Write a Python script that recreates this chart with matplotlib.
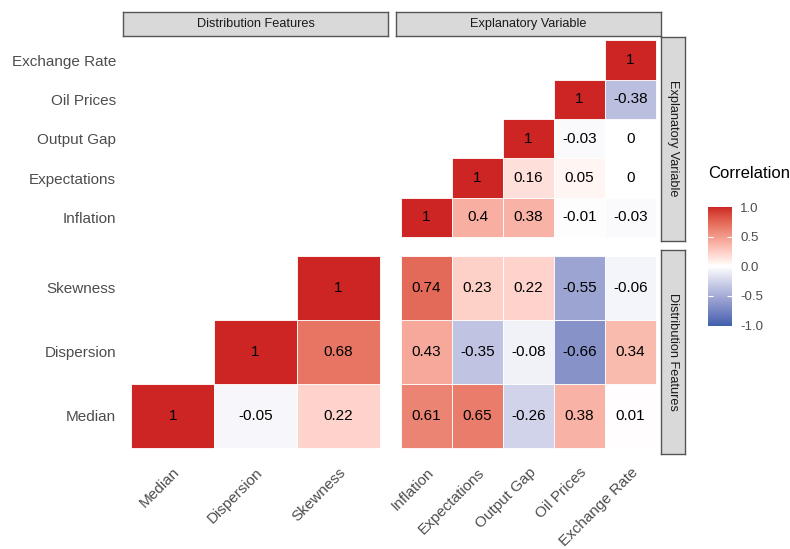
import numpy as np
import matplotlib
matplotlib.use("Agg")
import matplotlib.pyplot as plt
from matplotlib.colors import ListedColormap, Normalize, to_rgb
from matplotlib.cm import ScalarMappable

plt.rcParams['font.family'] = ['Liberation Sans', 'DejaVu Sans']

# ---- data ----
expl_vars = ["Inflation", "Expectations", "Output Gap", "Oil Prices", "Exchange Rate"]
dist_vars = ["Median", "Dispersion", "Skewness"]

# upper triangles, row i starts at column i
expl_corr = [
    [1, 0.4, 0.38, -0.01, -0.03],
    [1, 0.16, 0.05, 0],
    [1, -0.03, 0],
    [1, -0.38],
    [1],
]
dist_corr = [
    [1, -0.05, 0.22],
    [1, 0.68],
    [1],
]
# rows: dist_vars, columns: expl_vars
cross_corr = [
    [0.61, 0.65, -0.26, 0.38, 0.01],
    [0.43, -0.35, -0.08, -0.66, 0.34],
    [0.74, 0.23, 0.22, -0.55, -0.06],
]
legend_ticks = [-1.0, -0.5, 0.0, 0.5, 1.0]

# ---- colour scale (gradient2 in Lab space) ----
WHITE_REF = np.array([0.95047, 1.0, 1.08883])
M = np.array([[0.4124, 0.3576, 0.1805],
              [0.2126, 0.7152, 0.0722],
              [0.0193, 0.1192, 0.9505]])


def to_lab(c):
    c = np.asarray(to_rgb(c))
    lin = np.where(c <= 0.04045, c / 12.92, ((c + 0.055) / 1.055) ** 2.4)
    xyz = M @ lin / WHITE_REF
    f = np.where(xyz > 0.008856, np.cbrt(xyz), 7.787 * xyz + 16 / 116)
    return np.array([116 * f[1] - 16, 500 * (f[0] - f[1]), 200 * (f[1] - f[2])])


def from_lab(lab):
    fy = (lab[0] + 16) / 116
    f = np.array([fy + lab[1] / 500, fy, fy - lab[2] / 200])
    xyz = np.where(f ** 3 > 0.008856, f ** 3, (f - 16 / 116) / 7.787) * WHITE_REF
    lin = np.linalg.solve(M, xyz)
    c = np.where(lin <= 0.0031308, 12.92 * lin, 1.055 * np.clip(lin, 0, None) ** (1 / 2.4) - 0.055)
    return np.clip(c, 0, 1)


low, mid, high = to_lab("#4160AD"), to_lab("white"), to_lab("#CC2524")
vals = np.linspace(-1, 1, 401)
cols = []
for v in vals:
    end = low if v < 0 else high
    cols.append(from_lab(mid + abs(v) * (end - mid)))
cmap = ListedColormap(cols)
norm = Normalize(-1, 1)

# ---- layout (pixels of a 790x549 canvas) ----
W, H = 790, 549
fig = plt.figure(figsize=(7.9, 5.49), dpi=100)


def px_axes(x0, y0, x1, y1):
    return fig.add_axes([x0 / W, 1 - y1 / H, (x1 - x0) / W, (y1 - y0) / H])


col_x = [(123, 388), (396, 661)]
row_y = [(36.5, 241), (249.5, 454)]

axes = {}
for r in range(2):
    for c in range(2):
        ax = px_axes(col_x[c][0], row_y[r][0], col_x[c][1], row_y[r][1])
        for s in ax.spines.values():
            s.set_visible(False)
        ax.tick_params(length=0, labelsize=11, labelcolor="#4D4D4D", pad=5)
        axes[(r, c)] = ax


def draw_tiles(ax, xs, ys, vs):
    ax.bar(xs, 1, bottom=np.array(ys) - 0.5, width=1,
           color=[cmap(norm(v)) for v in vs], edgecolor="white", linewidth=0.6)
    for x, y, v in zip(xs, ys, vs):
        ax.text(x, y, f"{v:g}", ha="center", va="center", fontsize=11, color="black")


# top-right: explanatory vs explanatory
xs, ys, vs = [], [], []
for i, row in enumerate(expl_corr):
    for k, v in enumerate(row):
        xs.append(i + k)
        ys.append(i)
        vs.append(v)
draw_tiles(axes[(0, 1)], xs, ys, vs)

# bottom-left: distribution vs distribution
xs, ys, vs = [], [], []
for i, row in enumerate(dist_corr):
    for k, v in enumerate(row):
        xs.append(i + k)
        ys.append(i)
        vs.append(v)
draw_tiles(axes[(1, 0)], xs, ys, vs)

# bottom-right: distribution vs explanatory
xs, ys, vs = [], [], []
for i, row in enumerate(cross_corr):
    for k, v in enumerate(row):
        xs.append(k)
        ys.append(i)
        vs.append(v)
draw_tiles(axes[(1, 1)], xs, ys, vs)

# limits and labels
for (r, c), ax in axes.items():
    nx = len(dist_vars) if c == 0 else len(expl_vars)
    ny = len(expl_vars) if r == 0 else len(dist_vars)
    ax.set_xlim(-0.6, nx - 0.4)
    ax.set_ylim(-0.6, ny - 0.4)
    ax.set_xticks([])
    ax.set_yticks([])

axes[(0, 0)].set_yticks(range(len(expl_vars)))
axes[(0, 0)].set_yticklabels(expl_vars)
axes[(1, 0)].set_yticks(range(len(dist_vars)))
axes[(1, 0)].set_yticklabels(dist_vars)
for c, names in [(0, dist_vars), (1, expl_vars)]:
    ax = axes[(1, c)]
    ax.set_xticks(range(len(names)))
    ax.set_xticklabels(names, rotation=45, ha="right", va="top", rotation_mode="anchor")
    ax.tick_params(axis="x", pad=8)

# ---- facet strips ----
strip_fill, strip_edge = "#D9D9D9", "#555555"


def strip(x0, y0, x1, y1, text, rot):
    ax = px_axes(x0, y0, x1, y1)
    ax.set_facecolor(strip_fill)
    ax.set_xticks([])
    ax.set_yticks([])
    for s in ax.spines.values():
        s.set_edgecolor(strip_edge)
        s.set_linewidth(1.0)
    ax.text(0.5, 0.5, text, transform=ax.transAxes, ha="center", va="center",
            rotation=rot, fontsize=9.2, color="#1A1A1A")


strip(123, 12, 388, 36, "Distribution Features", 0)
strip(396, 12, 661, 36, "Explanatory Variable", 0)
strip(661, 36.5, 685, 241, "Explanatory Variable", -90)
strip(661, 249.5, 685, 454, "Distribution Features", -90)

# ---- colourbar legend ----
cax = px_axes(708, 207, 732, 325.5)
cb = fig.colorbar(ScalarMappable(norm=norm, cmap=cmap), cax=cax, ticks=legend_ticks)
cb.outline.set_visible(False)
cb.ax.tick_params(length=0, labelsize=9.5, labelcolor="#4D4D4D", pad=6)
cb.ax.set_yticklabels([f"{t:.1f}" for t in legend_ticks])
tr = cb.ax.get_yaxis_transform()
inner = legend_ticks[1:-1]
cb.ax.hlines(inner, 0, 0.2, transform=tr, color="white", linewidth=0.8)
cb.ax.hlines(inner, 0.8, 1, transform=tr, color="white", linewidth=0.8)
fig.text(708 / W, 1 - 173 / H, "Correlation", ha="left", va="center", fontsize=12, color="black")

plt.savefig("out.png", dpi=100)
